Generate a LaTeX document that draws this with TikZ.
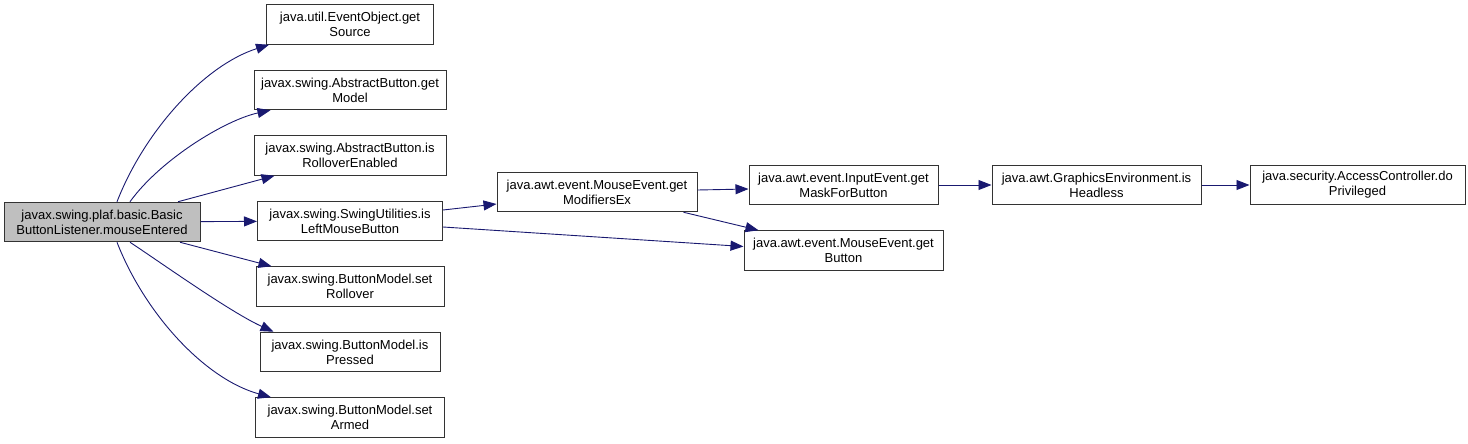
\documentclass[tikz,border=0pt]{standalone}
\usepackage{fontspec}
\setmainfont{Liberation Sans}
\usepackage{xcolor}
\usetikzlibrary{positioning, arrows.meta}
\definecolor{edgeblue}{RGB}{25,25,112}

\begin{document}
\begin{tikzpicture}[
    x=1pt, y=-1pt, % pixel-like units, y grows downwards
    font=\fontsize{13pt}{15pt}\selectfont,
    % --- STYLES ---
    fn_node/.style={
        draw=black!80,
        line width=1pt,
        align=center,
        minimum height=39.5pt, % Two text lines per box
        inner xsep=2pt,
        inner ysep=2pt
    },
    root_node/.style={fn_node, fill=black!25},
    call_arrow/.style={draw=edgeblue, line width=0.9pt, -{Triangle[length=13pt, width=10pt]}} % Arrow style
]
\useasboundingbox (0,0) rectangle (1468,444);

% --- Caller node ---
\node[root_node, minimum width=196pt] (root) at (102,222) {javax.swing.plaf.basic.Basic\\ButtonListener.mouseEntered};

% --- First column of callees ---
\node[fn_node, minimum width=167pt] (getSource) at (350,24.5) {java.util.EventObject.get\\Source};
\node[fn_node, minimum width=192pt, below=25pt of getSource] (getModel) {javax.swing.AbstractButton.get\\Model};
\node[fn_node, minimum width=192pt, below=25pt of getModel] (isRollover) {javax.swing.AbstractButton.is\\RolloverEnabled};
\node[fn_node, minimum width=185pt, below=25pt of isRollover] (isLeft) {javax.swing.SwingUtilities.is\\LeftMouseButton};
\node[fn_node, minimum width=188pt, below=25pt of isLeft] (setRollover) {javax.swing.ButtonModel.set\\Rollover};
\node[fn_node, minimum width=180pt, below=25pt of setRollover] (isPressed) {javax.swing.ButtonModel.is\\Pressed};
\node[fn_node, minimum width=189pt, below=25pt of isPressed] (setArmed) {javax.swing.ButtonModel.set\\Armed};

% --- Calls made by isLeftMouseButton ---
\node[fn_node, minimum width=200pt] (getMods) at (597,192) {java.awt.event.MouseEvent.get\\ModifiersEx};
\node[fn_node, minimum width=189pt] (getMask) at (843.5,185) {java.awt.event.InputEvent.get\\MaskForButton};
\node[fn_node, minimum width=199pt, below=25pt of getMask] (getButton) {java.awt.event.MouseEvent.get\\Button};
\node[fn_node, minimum width=209pt, right=53pt of getMask] (isHeadless) {java.awt.GraphicsEnvironment.is\\Headless};
\node[fn_node, minimum width=215pt, right=48pt of isHeadless] (doPriv) {java.security.AccessController.do\\Privileged};

% --- ARROWS from the caller ---
\draw[call_arrow] ([xshift=15pt]root.north) .. controls (145,130) and (205,65) .. ([xshift=3pt]getSource.south west);
\draw[call_arrow] ([xshift=28pt]root.north) .. controls (160,160) and (225,120) .. ([xshift=17pt]getModel.south west);
\draw[call_arrow] ([xshift=76pt]root.north) -- ([xshift=21pt]isRollover.south west);
\draw[call_arrow] (root) -- (isLeft);
\draw[call_arrow] ([xshift=78pt]root.south) -- ([xshift=16pt]setRollover.north west);
\draw[call_arrow] ([xshift=28pt]root.south) .. controls (160,262) and (230,312) .. ([xshift=14pt]isPressed.north west);
\draw[call_arrow] ([xshift=15pt]root.south) .. controls (145,314) and (205,379) .. ([xshift=16pt]setArmed.north west);

% --- ARROWS further down the chain ---
\draw[call_arrow] ([yshift=11pt]isLeft.east) -- ([yshift=-12pt]getMods.west);
\draw[call_arrow] ([yshift=-6pt]isLeft.east) -- ([yshift=4pt]getButton.west);
\draw[call_arrow] ([yshift=2pt]getMods.east) -- ([yshift=-4pt]getMask.west);
\draw[call_arrow] ([xshift=-14pt]getMods.south east) -- ([xshift=15pt]getButton.north west);
\draw[call_arrow] (getMask) -- (isHeadless);
\draw[call_arrow] (isHeadless) -- (doPriv);

\end{tikzpicture}
\end{document}
